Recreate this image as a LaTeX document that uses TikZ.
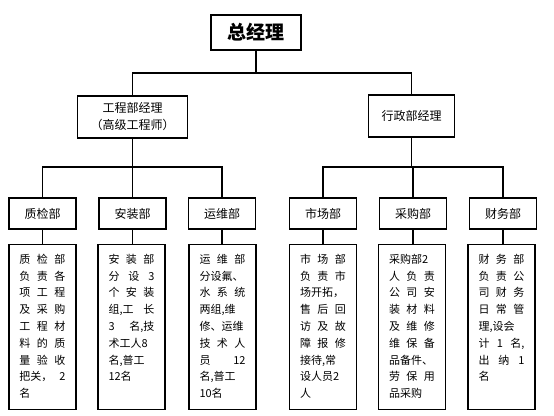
\documentclass[tikz,border=0pt]{standalone}
\usepackage{fontspec}
\setmainfont{Noto Sans CJK SC}
\usetikzlibrary{positioning}
\newcommand{\sline}[1]{\makebox[46pt][s]{#1}}
\newcommand{\desctext}[1]{\parbox[c][146pt][t]{46pt}{\fontsize{11pt}{16.8pt}\selectfont\raggedright #1}}

\begin{document}
\begin{tikzpicture}[x=1pt,y=-1pt,
  box/.style={draw, line width=1.1pt, inner sep=0pt, align=center},
  chief/.style={box, minimum width=90pt, minimum height=35pt, font={\bfseries\fontsize{19pt}{19pt}\selectfont}},
  mgr/.style={box, minimum height=42pt, font={\fontsize{12pt}{17pt}\selectfont}},
  dept/.style={box, minimum width=67pt, minimum height=31pt, font={\fontsize{12pt}{14pt}\selectfont}},
  desc/.style={box, anchor=north, inner xsep=10.5pt, inner ysep=9.5pt},
  link/.style={line width=1.1pt}]
  \useasboundingbox (0,0) rectangle (554,415);
  \fill[white] (0,0) rectangle (554,415);

  % top levels
  \node[chief] (gm) at (256,32.5) {总经理};
  \node[mgr, minimum width=110pt] (eng) at (132.5,117) {工程部经理\\（高级工程师）};
  \node[mgr, minimum width=86pt] (adm) at (411.5,116) {行政部经理};
  \coordinate (bus1) at (256,73);
  \coordinate (bus2) at (0,167);

  % departments
  \node[dept] (qc) at (42.5,213.5) {质检部};
  \node[dept] (ins) at (132.5,213.5) {安装部};
  \node[dept] (om) at (222,213.5) {运维部};
  \node[dept] (mkt) at (323,213.5) {市场部};
  \node[dept] (pur) at (413,213.5) {采购部};
  \node[dept] (fin) at (503,213.5) {财务部};

  % duties
  \node[desc] (qcd) at (42.5,244) {\desctext{\sline{质 检 部}\\\sline{负 责 各}\\\sline{项 工 程}\\\sline{及 采 购}\\\sline{工 程 材}\\\sline{料 的 质}\\\sline{量 验 收}\\\sline{把关， 2}\\名}};
  \node[desc] (insd) at (131.5,244) {\desctext{\sline{安 装 部}\\\sline{分 设 3}\\\sline{个 安 装}\\\sline{组,工 长}\\\sline{3 名,技}\\术工人8\\名,普工\\12名}};
  \node[desc] (omd) at (222.5,244) {\desctext{\sline{运 维 部}\\分设氟、\\\sline{水 系 统}\\\sline{两组,维}\\修、运维\\\sline{技 术 人}\\\sline{员 12}\\名,普工\\10名}};
  \node[desc] (mktd) at (323,244) {\desctext{\sline{市 场 部}\\\sline{负 责 市}\\场开拓，\\\sline{售 后 回}\\\sline{访 及 故}\\\sline{障 报 修}\\接待,常\\设人员2\\人}};
  \node[desc] (purd) at (412,244) {\desctext{采购部2\\\sline{人 负 责}\\\sline{公 司 安}\\\sline{装 材 料}\\\sline{及 维 修}\\\sline{维 保 备}\\品备件、\\\sline{劳 保 用}\\品采购}};
  \node[desc] (find) at (501.5,244) {\desctext{\sline{财 务 部}\\\sline{负 责 公}\\\sline{司 财 务}\\\sline{日 常 管}\\理,设会\\\sline{计 1 名,}\\\sline{出 纳 1}\\名}};

  % connectors
  \draw[link] (gm) -- (bus1);
  \draw[link] (eng.north) -- (eng.north |- bus1) -- (adm.north |- bus1) -- (adm.north);
  \draw[link] (eng.south) -- (eng.south |- bus2);
  \draw[link] (adm.south) -- (adm.south |- bus2);
  \draw[link] (qc.north) -- (qc.north |- bus2) -- (om.north |- bus2) -- (om.north);
  \draw[link] (ins.north) -- (ins.north |- bus2);
  \draw[link] (mkt.north) -- (mkt.north |- bus2) -- (fin.north |- bus2) -- (fin.north);
  \draw[link] (pur.north) -- (pur.north |- bus2);
  \foreach \d in {qc,ins,om,mkt,pur,fin}
    \draw[link] (\d.south) -- (\d.south |- \d d.north);
\end{tikzpicture}
\end{document}
